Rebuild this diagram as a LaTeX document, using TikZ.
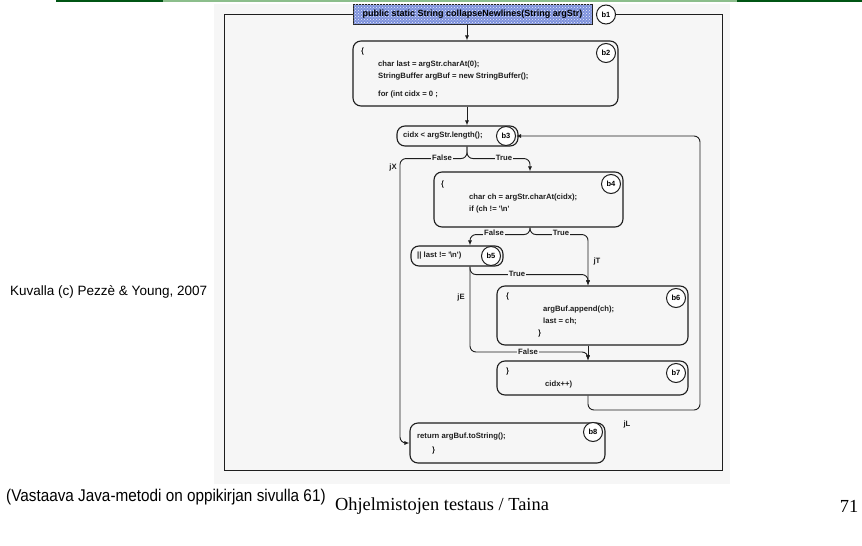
\documentclass[tikz,border=0pt]{standalone}
\usepackage{fontspec}
\setmainfont{Liberation Serif}
\newfontfamily\arial{Liberation Sans}
\usepackage{graphicx}
\usetikzlibrary{arrows.meta,patterns}
\definecolor{ink}{RGB}{30,30,30}
\definecolor{scanbg}{RGB}{246,246,246}
\definecolor{darkgreen}{RGB}{0,85,20}
\definecolor{lightgreen}{RGB}{140,190,140}
\definecolor{hdrblue}{RGB}{125,145,220}
\begin{document}
\begin{tikzpicture}[x=1pt,y=-1pt,
  line/.style={draw=ink, line width=0.9pt, rounded corners=6pt},
  arr/.style={line, -{Latex[length=5pt,width=4pt]}},
  blk/.style={draw=ink, line width=1.1pt, rounded corners=8pt, inner sep=0pt},
  hdr/.style={draw=ink, line width=0.8pt, fill=hdrblue, inner sep=0pt,
    postaction={pattern=crosshatch dots, pattern color=white!85!hdrblue},
    font=\arial\bfseries\fontsize{9}{10}\selectfont},
  tag/.style={circle, draw=ink, line width=1pt, fill=white, inner sep=0pt,
    minimum size=19pt, font=\arial\bfseries\fontsize{7.5}{8}\selectfont},
  code/.style={anchor=west, inner sep=0pt, text=ink, font=\arial\bfseries\fontsize{7.7}{9}\selectfont},
  lbl/.style={fill=scanbg, inner sep=1pt, text=ink, font=\arial\bfseries\fontsize{7.7}{9}\selectfont},
  jlbl/.style={inner sep=0pt, text=ink, font=\arial\bfseries\fontsize{7.7}{9}\selectfont}]
\useasboundingbox (0,0) rectangle (862,546);
\fill[white] (0,0) rectangle (862,546);

% title rule
\fill[darkgreen] (56,0) rectangle (163,2);
\fill[lightgreen] (163,0) rectangle (737,2);
\fill[darkgreen] (737,0) rectangle (862,2);

% scanned figure area
\fill[scanbg] (214,4) rectangle (730,484);

% blocks
\node[hdr, minimum width=239pt, minimum height=20pt] (b1) at (472.5,14.5)
  {public static String collapseNewlines(String argStr)};
\node[blk, minimum width=265pt, minimum height=65pt] (b2) at (485.5,73.5) {};
\node[blk, minimum width=121pt, minimum height=20pt] (b3) at (457.5,136) {};
\node[blk, minimum width=189pt, minimum height=55pt] (b4) at (528.5,199.5) {};
\node[blk, minimum width=92pt, minimum height=20pt] (b5) at (457,256) {};
\node[blk, minimum width=191pt, minimum height=59pt] (b6) at (592.5,315.5) {};
\node[blk, minimum width=191pt, minimum height=34pt] (b7) at (592.5,378) {};
\node[blk, minimum width=195pt, minimum height=40pt] (b8) at (507.5,443) {};

% figure frame
\coordinate (fl) at (224,14.5);
\coordinate (fbl) at (224,470);
\coordinate (fbr) at (722,470);
\coordinate (fr) at (722,14.5);

% block tags
\node[tag] (t1) at (606,14.5) {b1};
\node[tag] (t2) at (606,53) {b2};
\node[tag] (t3) at (506,136) {b3};
\node[tag] (t4) at (611,184) {b4};
\node[tag] (t5) at (491,256) {b5};
\node[tag] (t6) at (676,298) {b6};
\node[tag] (t7) at (676,373) {b7};
\node[tag] (t8) at (593,432) {b8};

\draw[ink, line width=0.9pt] (b1.west) -- (fl) -- (fbl) -- (fbr) -- (fr) -- (t1.east);

% code text
\node[code] (c2a) at (361,52) {\{};
\node[code] (c2b) at (378,65) {char last = argStr.charAt(0);};
\node[code] (c2c) at (378,77) {StringBuffer argBuf = new StringBuffer();};
\node[code] (c2d) at (378,95) {for (int cidx = 0 ;};
\node[code] (c3) at (403,136) {cidx < argStr.length();};
\node[code] (c4a) at (441,185) {\{};
\node[code] (c4b) at (469,198) {char ch = argStr.charAt(cidx);};
\node[code] (c4c) at (469,210) {if (ch != \textquotesingle\textbackslash n\textquotesingle};
\node[code] (c5) at (417,256) {\textbar\textbar{} last != \textquotesingle\textbackslash n\textquotesingle)};
\node[code] (c6a) at (506,297) {\{};
\node[code] (c6b) at (543,310) {argBuf.append(ch);};
\node[code] (c6c) at (543,321) {last = ch;};
\node[code] (c6d) at (538,334) {\}};
\node[code] (c7a) at (506,372) {\}};
\node[code] (c7b) at (545,385) {cidx++)};
\node[code] (c8a) at (417,437) {return argBuf.toString();};
\node[code] (c8b) at (432,451) {\}};

% connector columns
\coordinate (trunk) at (467,0);
\coordinate (xcol) at (400,300);
\coordinate (c4col) at (530,0);
\coordinate (c5col) at (470,0);
\coordinate (c6col) at (588,0);
\coordinate (fbend) at (470,352);
\coordinate (lbend) at (700,410);

% connectors
\draw[arr] (b1.south -| trunk) -- (b2.north -| trunk);
\draw[arr] (b2.south -| trunk) -- (b3.north -| trunk);
\draw[arr] (b3.south -| trunk) -- ++(0,12) -| (xcol) |- (b8.west);
\draw[arr] (b3.south -| trunk) -- ++(0,12) -| (b4.north -| c4col);
\draw[arr] (b4.south -| c4col) -- ++(0,7) -| (b5.north -| c5col);
\draw[arr] (b4.south -| c4col) -- ++(0,7) -| (b6.north -| c6col);
\draw[arr] (b5.south -| c5col) -- ++(0,8) -| (b6.north -| c6col);
\draw[arr] (b5.south -| c5col) -- (fbend) -| (b7.north -| c6col);
\draw[arr] (b6.south -| c6col) -- (b7.north -| c6col);
\draw[arr] (b7.south -| c6col) |- (lbend) |- (t3.east);

% edge labels
\node[lbl] (lf3) at (442,158) {False};
\node[lbl] (lt3) at (504,158) {True};
\node[lbl] (lf4) at (494,233) {False};
\node[lbl] (lt4) at (561,233) {True};
\node[lbl] (lt5) at (517,274) {True};
\node[lbl] (lf5) at (528,352) {False};
\node[jlbl] (jx) at (393,168) {jX};
\node[jlbl] (jt) at (597,262) {jT};
\node[jlbl] (je) at (461,298) {jE};
\node[jlbl] (jl) at (627,425) {jL};

% captions
\node[anchor=west, inner sep=0pt, font=\arial\fontsize{13.5}{15}\selectfont] (src) at (10,292)
  {Kuvalla (c) Pezzè \& Young, 2007};
\node[anchor=west, inner sep=0pt, font=\arial\fontsize{17}{19}\selectfont] (note) at (6,497)
  {\scalebox{0.9}[1]{(Vastaava Java-metodi on oppikirjan sivulla 61)}};
\node[inner sep=0pt, font=\fontsize{18.4}{20}\selectfont] (foot) at (442,506)
  {Ohjelmistojen testaus / Taina};
\node[inner sep=0pt, font=\fontsize{18.4}{20}\selectfont] (page) at (849,506) {71};
\end{tikzpicture}
\end{document}
